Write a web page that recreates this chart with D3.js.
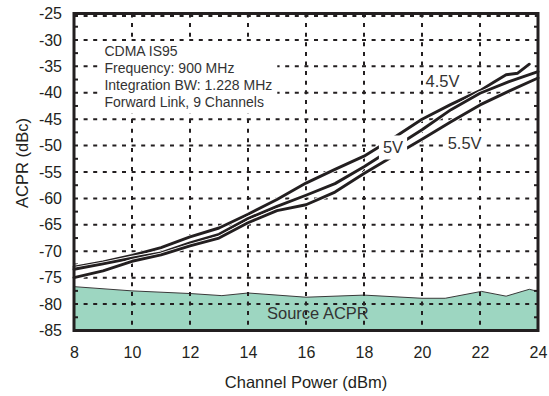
<!DOCTYPE html>
<html>
<head>
<meta charset="utf-8">
<script src="https://cdn.jsdelivr.net/npm/d3@7"></script>
<style>
  body { margin: 0; background: #fff; }
  text { font-family: "Liberation Sans", Arial, Helvetica, sans-serif; }
</style>
</head>
<body>
<div id="chart"></div>
<script>
'use strict';

// axis ticks
var powerTicks = [8, 10, 12, 14, 16, 18, 20, 22, 24];
var acprTicks = [-25, -30, -35, -40, -45, -50, -55, -60, -65, -70, -75, -80, -85];

// ACPR curves
var power45 = [8, 9, 10, 11, 12, 13, 14, 15, 16, 17, 18, 19, 20, 21, 22, 22.5, 22.9, 23.3, 23.7];
var acpr45 = [-73.0, -72.0, -70.8, -69.3, -67.3, -65.6, -63.0, -60.2, -57.1, -54.5, -52.0, -48.6, -45.0, -42.2, -39.6, -37.9, -36.6, -36.3, -34.6];

var power50 = [8, 9, 10, 11, 12, 13, 14, 15, 16, 17, 18, 19, 20, 21, 22, 23, 24];
var acpr50 = [-73.4, -72.4, -71.3, -70.3, -68.4, -66.8, -63.8, -61.5, -59.4, -57.2, -54.0, -50.5, -47.0, -43.2, -40.1, -37.9, -36.0];

var power55 = [8, 9, 10, 11, 12, 13, 14, 15, 16, 17, 18, 19, 20, 21, 22, 23, 24];
var acpr55 = [-75.0, -73.7, -71.9, -70.7, -69.0, -67.5, -64.6, -62.3, -61.2, -58.8, -55.3, -52.0, -48.8, -45.5, -42.3, -39.7, -37.2];

// source ACPR floor
var sourcePower = [8, 10, 12, 13.1, 14, 15, 16, 18, 20, 20.8, 22.05, 22.9, 23.7, 24];
var sourceAcpr = [-76.7, -77.5, -78.0, -78.4, -77.9, -78.3, -78.7, -78.3, -78.9, -78.9, -77.6, -78.5, -77.2, -77.6];

var noteLines = ['CDMA IS95', 'Frequency: 900 MHz', 'Integration BW: 1.228 MHz', 'Forward Link, 9 Channels'];

var W = 549, H = 396;
var margin = { top: 13.5, right: 11, bottom: 65.5, left: 74 };
var iw = W - margin.left - margin.right;
var ih = H - margin.top - margin.bottom;
var ink = '#231f20';

var svg = d3.select('#chart').append('svg')
  .attr('width', W).attr('height', H);
var g = svg.append('g').attr('transform', 'translate(' + margin.left + ',' + margin.top + ')');

var x = d3.scaleLinear().domain([8, 24]).range([0, iw]);
var y = d3.scaleLinear().domain([-85, -25]).range([ih, 0]);

// source ACPR area
var srcData = sourcePower.map(function (p, i) { return { p: p, v: sourceAcpr[i] }; });
g.append('path')
  .datum(srcData)
  .attr('fill', '#9dd6c1')
  .attr('d', d3.area().x(function (d) { return x(d.p); }).y0(ih).y1(function (d) { return y(d.v); }));
g.append('path')
  .datum(srcData)
  .attr('fill', 'none')
  .attr('stroke', '#3a3a3a')
  .attr('stroke-width', 1)
  .attr('d', d3.line().x(function (d) { return x(d.p); }).y(function (d) { return y(d.v); }));

// dashed grid
var grid = g.append('g').attr('stroke', ink).attr('stroke-width', 2).attr('stroke-dasharray', '4,5.6');
grid.selectAll('line.h')
  .data(acprTicks.filter(function (t) { return t > -85 && t < -25; }))
  .join('line')
  .attr('class', 'h')
  .attr('x1', 0).attr('x2', iw)
  .attr('y1', function (d) { return y(d); }).attr('y2', function (d) { return y(d); });
grid.selectAll('line.v')
  .data(powerTicks.filter(function (t) { return t > 8 && t < 24; }))
  .join('line')
  .attr('class', 'v')
  .attr('y1', 0).attr('y2', ih)
  .attr('x1', function (d) { return x(d); }).attr('x2', function (d) { return x(d); });
// dashed rim just under the top edge
grid.append('line')
  .attr('x1', 0).attr('x2', iw)
  .attr('y1', y(-25) + 2.5).attr('y2', y(-25) + 2.5);

// minor ticks on left and right edges
var minor = d3.range(-82.5, -25, 5);
var mt = g.append('g').attr('stroke', ink).attr('stroke-width', 2);
mt.selectAll('line.l').data(minor).join('line').attr('class', 'l')
  .attr('x1', 0).attr('x2', 4)
  .attr('y1', function (d) { return y(d); }).attr('y2', function (d) { return y(d); });
mt.selectAll('line.r').data(minor).join('line').attr('class', 'r')
  .attr('x1', iw - 4).attr('x2', iw)
  .attr('y1', function (d) { return y(d); }).attr('y2', function (d) { return y(d); });

// note box
var note = g.append('g');
var noteBg = note.append('rect').attr('fill', '#fff');
var noteText = note.append('text')
  .attr('font-size', 14)
  .attr('fill', '#333');
noteText.selectAll('tspan')
  .data(noteLines)
  .join('tspan')
  .attr('x', x(9.05))
  .attr('y', function (d, i) { return y(-32.2) + i * 16.7; })
  .attr('dy', '0.35em')
  .text(function (d) { return d; });
var nb = noteText.node().getBBox();
noteBg.attr('x', nb.x - 4).attr('y', nb.y - 2).attr('width', nb.width + 9).attr('height', nb.height + 6);

// curves
var series = [
  { p: power45, v: acpr45 },
  { p: power50, v: acpr50 },
  { p: power55, v: acpr55 }
];
var line = d3.line().x(function (d) { return x(d[0]); }).y(function (d) { return y(d[1]); });
var curves = g.append('g').attr('fill', 'none').attr('stroke-linejoin', 'round').attr('stroke-linecap', 'round');
series.forEach(function (s) {
  var pts = s.p.map(function (p, i) { return [p, s.v[i]]; });
  curves.append('path').datum(pts).attr('d', line).attr('stroke', '#fff').attr('stroke-width', 4.6);
  curves.append('path').datum(pts).attr('d', line).attr('stroke', ink).attr('stroke-width', 2.9);
});

// curve labels with white backing
var labels = [
  { t: '4.5V', p: 20.71, v: -37.9, bg: false },
  { t: '5V', p: 19.0, v: -50.4, bg: true },
  { t: '5.5V', p: 21.47, v: -49.6, bg: true }
];
labels.forEach(function (d) {
  var lg = g.append('g');
  var r = lg.append('rect').attr('fill', '#fff');
  var t = lg.append('text')
    .attr('x', x(d.p)).attr('y', y(d.v))
    .attr('dy', '0.35em')
    .attr('text-anchor', 'middle')
    .attr('font-size', 16.5)
    .attr('fill', '#333')
    .text(d.t);
  var b = t.node().getBBox();
  if (d.bg) r.attr('x', b.x - 4).attr('y', b.y - 3).attr('width', b.width + 8).attr('height', b.height + 6);
});

g.append('text')
  .attr('x', x(16.41)).attr('y', y(-81.7))
  .attr('dy', '0.35em')
  .attr('text-anchor', 'middle')
  .attr('font-size', 16.5)
  .attr('fill', '#333')
  .text('Source ACPR');

// frame
g.append('rect')
  .attr('width', iw).attr('height', ih)
  .attr('fill', 'none').attr('stroke', ink).attr('stroke-width', 3);

// axes
var xAxis = g.append('g')
  .attr('transform', 'translate(0,' + ih + ')')
  .call(d3.axisBottom(x).tickValues(powerTicks).tickSize(0).tickPadding(16));
var yAxis = g.append('g')
  .call(d3.axisLeft(y).tickValues(acprTicks).tickSize(0).tickPadding(12));
[xAxis, yAxis].forEach(function (a) {
  a.select('.domain').remove();
  a.selectAll('text')
    .attr('font-size', 16)
    .attr('font-family', '"Liberation Sans", Arial, Helvetica, sans-serif')
    .attr('fill', ink);
});
yAxis.selectAll('text').text(function (d) { return String(d); });

// axis titles
svg.append('text')
  .attr('x', margin.left + x(16))
  .attr('y', 382.5)
  .attr('dy', '0.35em')
  .attr('text-anchor', 'middle')
  .attr('font-size', 16.5)
  .attr('fill', ink)
  .text('Channel Power (dBm)');
svg.append('text')
  .attr('transform', 'translate(22,' + 163 + ') rotate(-90)')
  .attr('dy', '0.35em')
  .attr('text-anchor', 'middle')
  .attr('font-size', 16.5)
  .attr('fill', ink)
  .text('ACPR (dBc)');
</script>
</body>
</html>
